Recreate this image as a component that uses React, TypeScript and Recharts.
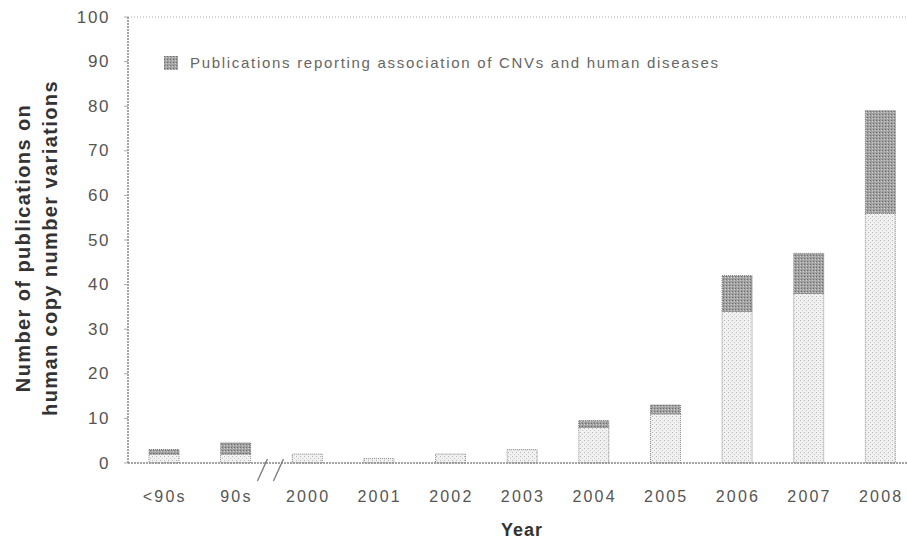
import React from "react";
import { BarChart, Bar, XAxis, YAxis, Legend, ReferenceLine, Label } from "recharts";

const YEARS = ["<90s", "90s", "2000", "2001", "2002", "2003", "2004", "2005", "2006", "2007", "2008"];
// publications on CNVs without disease association (light part)
const OTHER = [2, 2, 2, 1, 2, 3, 8, 11, 34, 38, 56];
// publications reporting association of CNVs and human diseases (dark part)
const DISEASE = [1, 2.5, 0, 0, 0, 0, 1.5, 2, 8, 9, 23];
const Y_TICKS = [0, 10, 20, 30, 40, 50, 60, 70, 80, 90, 100];

const LEGEND_TEXT = "Publications reporting association of CNVs and human diseases";

const data = YEARS.map((year, i) => ({ year, other: OTHER[i], disease: DISEASE[i] }));

const FONT = "'Liberation Sans', Arial, sans-serif";

const XTick = (props: any) => {
  const { x, y, payload } = props;
  return (
    <g>
      {payload.value === "90s" && (
        // axis break between the 90s and 2000
        <g>
          <rect x={x + 30} y={y - 6} width={14} height={12} fill="#fff" />
          <line x1={x + 22} y1={y + 10} x2={x + 32} y2={y - 12} stroke="#777" strokeWidth={1.3} />
          <line x1={x + 38} y1={y + 10} x2={x + 48} y2={y - 12} stroke="#777" strokeWidth={1.3} />
        </g>
      )}
      <text x={x + 1} y={y + 31} textAnchor="middle" fontFamily={FONT} fontSize={16} letterSpacing={2.2} fill="#555">
        {payload.value}
      </text>
    </g>
  );
};

const YTick = (props: any) => {
  const { x, y, payload } = props;
  return (
    <text x={x} y={y} textAnchor="end" dominantBaseline="central" fontFamily={FONT} fontSize={17} letterSpacing={1.6} fill="#555">
      {payload.value}
    </text>
  );
};

const YLabel = (props: any) => {
  const { viewBox } = props;
  const cy = viewBox.y + viewBox.height / 2 + 8;
  return (
    <g fontFamily={FONT} fontSize={20} fontWeight="bold" fill="#333" textAnchor="middle" letterSpacing={1.4}>
      <text x={23} y={cy} transform={`rotate(-90 23 ${cy})`} dominantBaseline="central">
        Number of publications on
      </text>
      <text x={50} y={cy} transform={`rotate(-90 50 ${cy})`} dominantBaseline="central">
        human copy number variations
      </text>
    </g>
  );
};

const LegendBox = () => (
  <div style={{ display: "flex", alignItems: "center", fontFamily: FONT, fontSize: 15, color: "#666", letterSpacing: 1.7, whiteSpace: "nowrap" }}>
    <svg width={14} height={14} style={{ marginRight: 12 }}>
      <rect width={14} height={14} fill="url(#darkPat)" />
    </svg>
    {LEGEND_TEXT}
  </div>
);

export default function App() {
  return (
    <div style={{ position: "absolute", left: 0, top: 0, width: 907, height: 543, overflow: "hidden", background: "#fff" }}>
      <BarChart width={916} height={543} data={data} margin={{ top: 17, right: 0, left: 0, bottom: 0 }} barSize={30}>
        <defs>
          <pattern id="lightPat" width={4} height={4} patternUnits="userSpaceOnUse">
            <rect width={4} height={4} fill="#f1f1f1" />
            <rect x={0} y={0} width={1} height={1} fill="#b5b5b5" />
            <rect x={2} y={2} width={1} height={1} fill="#c8c8c8" />
          </pattern>
          <pattern id="darkPat" width={3} height={3} patternUnits="userSpaceOnUse">
            <rect width={3} height={3} fill="#a2a2a2" />
            <rect x={0} y={0} width={1} height={1} fill="#6c6c6c" />
            <rect x={2} y={1} width={1} height={1} fill="#d0d0d0" />
          </pattern>
        </defs>
        <ReferenceLine y={100} stroke="#aaa" strokeDasharray="1 2" />
        <XAxis
          dataKey="year"
          height={80}
          axisLine={{ stroke: "#888", strokeWidth: 1.5, strokeDasharray: "2 1" }}
          tickLine={false}
          tick={<XTick />}
          interval={0}
        >
          <Label value="Year" position="insideBottom" offset={7} fontFamily={FONT} fontSize={18} fontWeight="bold" letterSpacing={1} fill="#333" />
        </XAxis>
        <YAxis
          width={128}
          domain={[0, 100]}
          ticks={Y_TICKS}
          interval={0}
          axisLine={{ stroke: "#888", strokeWidth: 1.5, strokeDasharray: "2 1" }}
          tickLine={{ stroke: "#aaa" }}
          tickSize={4}
          tick={<YTick />}
          tickMargin={14}
        >
          <Label content={<YLabel />} />
        </YAxis>
        <Legend
          layout="vertical"
          align="center"
          verticalAlign="middle"
          wrapperStyle={{ top: 54, left: 164, width: "auto", height: "auto" }}
          content={<LegendBox />}
        />
        <Bar dataKey="other" stackId="a" fill="url(#lightPat)" stroke="#8a8a8a" strokeDasharray="1 1" isAnimationActive={false} />
        <Bar dataKey="disease" stackId="a" fill="url(#darkPat)" stroke="#777" strokeDasharray="1 1" isAnimationActive={false} />
      </BarChart>
    </div>
  );
}
